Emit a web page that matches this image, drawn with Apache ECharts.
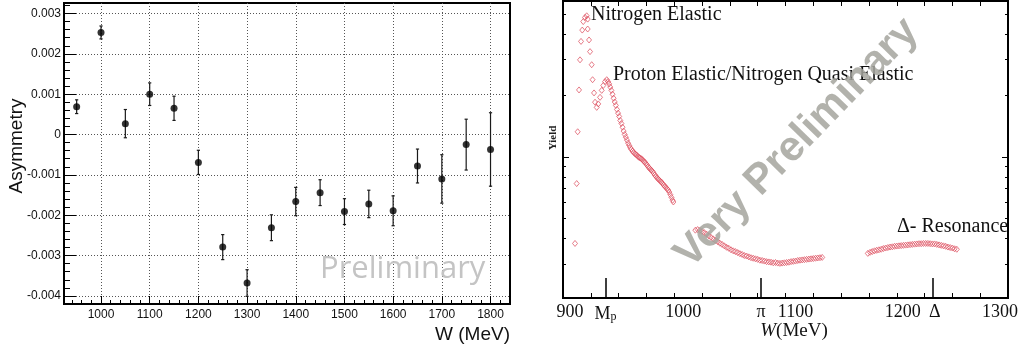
<!DOCTYPE html>
<html>
<head>
<meta charset="utf-8">
<script src="https://cdn.jsdelivr.net/npm/echarts@6/dist/echarts.min.js"></script>
<style>
html,body{margin:0;padding:0;background:#fff;}
#chart{width:1025px;height:354px;}
</style>
</head>
<body>
<div id="chart"></div>
<script>
// ---------- Left panel: asymmetry vs W ----------
const asymW = [950,1000,1050,1100,1150,1200,1250,1300,1350,1400,1450,1500,1550,1600,1650,1700,1750,1800];
const asymV = [0.00069,0.00253,0.00027,0.00100,0.00065,-0.00069,-0.00279,-0.00368,-0.00231,-0.00166,-0.00144,-0.00191,-0.00172,-0.00189,-0.00078,-0.00110,-0.00025,-0.00037];
const asymErr = [0.00017,0.00016,0.00035,0.00028,0.00030,0.00030,0.00031,0.00033,0.00032,0.00035,0.00032,0.00032,0.00034,0.00037,0.00042,0.00060,0.00063,0.00091];
const leftMajorX = [1000,1100,1200,1300,1400,1500,1600,1700,1800];
const leftMinorX = [940,960,980,1000,1020,1040,1060,1080,1100,1120,1140,1160,1180,1200,1220,1240,1260,1280,1300,1320,1340,1360,1380,1400,1420,1440,1460,1480,1500,1520,1540,1560,1580,1600,1620,1640,1660,1680,1700,1720,1740,1760,1780,1800,1820];
const leftMajorY = [-0.004,-0.003,-0.002,-0.001,0,0.001,0.002,0.003];
const leftMinorY = [-0.0040,-0.0038,-0.0036,-0.0034,-0.0032,-0.0030,-0.0028,-0.0026,-0.0024,-0.0022,-0.0020,-0.0018,-0.0016,-0.0014,-0.0012,-0.0010,-0.0008,-0.0006,-0.0004,-0.0002,0,0.0002,0.0004,0.0006,0.0008,0.0010,0.0012,0.0014,0.0016,0.0018,0.0020,0.0022,0.0024,0.0026,0.0028,0.0030,0.0032];

// ---------- Right panel: yield vs W (log scale, arbitrary units) ----------
const nitrogenW = [910.8,912.3,913.2,914.4,915.3,916.2,917.3,918.2,919.8,921.3,922.2,922.2,923.4,924.3,925.8,926.6,927.9,928.8,930.3];
const nitrogenY = [3.78,7.42,13.3,21.3,29.9,36.8,41.8,46.0,48.2,49.1,47.3,42.3,37.4,32.8,28.3,23.9,20.6,18.55,17.5];
const protonW = [931.7,933.3,934.8,936.2,937.8,939.3,940.5,941.5,942.5,943.5,944.5,945.5,946.5,947.5,948.5,949.5,950.5,951.5,952.5,953.5,954.5,955.5,956.5,957.5,958.5,959.5,960.5,961.5,962.5,963.5,964.5,965.5,966.5,967.5,968.5,969.5,970.5,971.5,972.5,973.5,974.5,975.5,976.5,977.5,978.5,979.5,980.5,981.5,982.5,983.5,984.5,985.5,986.5,987.5,988.5,989.5,990.5,991.5,992.5,993.5,994.5,995.5,996.5,997.5,998.5,999.2];
const protonY = [18.2,19.6,21.2,22.4,23.4,23.9,23.4,22.8,22.0,21.2,20.3,19.4,18.6,17.9,17.1,16.4,15.8,15.1,14.6,14.0,13.4,12.9,12.5,12.1,11.7,11.4,11.1,10.9,10.7,10.55,10.4,10.3,10.2,10.05,9.95,9.9,9.8,9.7,9.55,9.45,9.3,9.15,8.98,8.85,8.72,8.62,8.5,8.35,8.18,8.05,7.93,7.82,7.72,7.62,7.55,7.42,7.3,7.2,7.1,7.0,6.9,6.75,6.55,6.35,6.15,6.03];
const pionW = [1019,1021,1023,1025,1027,1029,1031,1033,1035,1037,1039,1041,1043,1045,1047,1049,1051,1053,1055,1057,1059,1061,1063,1065,1067,1069,1071,1073,1075,1077,1079,1081,1083,1085,1087,1089,1091,1093,1095,1097,1099,1101,1103,1105,1107,1109,1111,1113,1115,1117,1119,1121,1123,1125,1127,1129,1131,1133];
const pionY = [4.39,4.42,4.38,4.33,4.27,4.20,4.12,4.05,3.98,3.91,3.86,3.79,3.74,3.68,3.62,3.58,3.52,3.48,3.45,3.41,3.37,3.34,3.30,3.28,3.25,3.22,3.20,3.18,3.16,3.13,3.12,3.10,3.08,3.07,3.06,3.04,3.05,3.03,3.02,3.03,3.04,3.05,3.06,3.08,3.09,3.10,3.12,3.13,3.14,3.15,3.16,3.17,3.18,3.19,3.20,3.21,3.22,3.23];
const deltaW = [1174,1176,1178,1180,1182,1184,1186,1188,1190,1192,1194,1196,1198,1200,1202,1204,1206,1208,1210,1212,1214,1216,1218,1220,1222,1224,1226,1228,1230,1232,1234,1236,1238,1240,1242,1244,1246,1248,1250,1252,1254];
const deltaY = [3.38,3.42,3.45,3.48,3.50,3.52,3.54,3.57,3.59,3.61,3.63,3.64,3.66,3.67,3.68,3.69,3.70,3.71,3.72,3.73,3.74,3.75,3.76,3.77,3.77,3.78,3.78,3.78,3.77,3.76,3.76,3.74,3.72,3.70,3.68,3.66,3.63,3.61,3.59,3.56,3.54];
const rightTickX = [900,925,950,975,1000,1025,1050,1075,1100,1125,1150,1175,1200,1225,1250,1275,1300];
const rightSpecialX = [938.3,1078,1232];
const rightLabelX = [900,938.3,1000,1078,1100,1200,1232,1300];
const rightLabelText = ['{a|900}','{m|M}{s|p}','{b|1000}','π','{c|1100}','{d|1200}','{e|Δ}','{f|1300}'];
const rightMinorY = [3,4,5,6,7,8,9,20,30,40,50];
const rightMajorY = [10];

const zip = (a,b) => a.map((v,i) => [v,b[i]]);
const chart = echarts.init(document.getElementById('chart'), null, {renderer:'canvas'});

const sans = 'Liberation Sans';
const serif = 'Liberation Serif';
const yMin = 2.045, yMax = 58;

function hiddenX(grid, pos, vals, len, min, max, w){
  return {type:'value', gridIndex:grid, position:pos, min:min, max:max,
    axisLine:{show:false, onZero:false}, axisLabel:{show:false}, splitLine:{show:false},
    axisTick:{show:true, inside:true, length:len, customValues:vals, lineStyle:{color:'#000', width:w||1}}};
}
function hiddenY(grid, type, pos, vals, len, min, max, w){
  return {type:type, gridIndex:grid, position:pos, min:min, max:max,
    axisLine:{show:false, onZero:false}, axisLabel:{show:false}, splitLine:{show:false},
    axisTick:{show:true, inside:true, length:len, customValues:vals, lineStyle:{color:'#000', width:w||1}}};
}

const redStyle = {color:'rgba(0,0,0,0)', borderColor:'#dc4b5c', borderWidth:0.9};

const option = {
  animation:false,
  backgroundColor:'#fff',
  grid:[
    {left:64, top:3, width:446, height:301, show:true, borderColor:'#000', borderWidth:2, backgroundColor:'rgba(0,0,0,0)', outerBoundsMode:'none'},
    {left:563, top:1, width:445, height:297, show:true, borderColor:'#000', borderWidth:2, backgroundColor:'rgba(0,0,0,0)', outerBoundsMode:'none'}
  ],
  xAxis:[
    {type:'value', gridIndex:0, position:'bottom', min:924, max:1840,
      axisLine:{show:false, onZero:false},
      axisTick:{show:true, inside:true, length:8, customValues:leftMajorX, lineStyle:{color:'#000'}},
      axisLabel:{show:true, customValues:leftMajorX, fontFamily:sans, fontSize:12, color:'#111', margin:5,
        formatter:function(v){ return String(Math.round(v)); }},
      splitLine:{show:true, lineStyle:{color:'#555', width:1, type:[1,2]}}},
    hiddenX(0,'bottom',leftMinorX,4,924,1840),
    {type:'value', gridIndex:1, position:'bottom', min:900, max:1300,
      axisLine:{show:false, onZero:false},
      axisTick:{show:true, inside:true, length:5, customValues:rightTickX, lineStyle:{color:'#000'}},
      axisLabel:{show:true, customValues:rightLabelX, fontFamily:serif, fontSize:18, color:'#111', margin:5,
        formatter:function(v){ const i = rightLabelX.findIndex(t => Math.abs(t-v)<0.05); return i>=0 ? rightLabelText[i] : ''; },
        rich:{
          a:{fontFamily:serif, fontSize:18, padding:[0,0,0,14]},
          b:{fontFamily:serif, fontSize:18, padding:[0,0,0,18]},
          c:{fontFamily:serif, fontSize:18, padding:[0,0,0,20]},
          d:{fontFamily:serif, fontSize:18, padding:[0,0,0,12]},
          e:{fontFamily:serif, fontSize:18, padding:[0,0,0,5]},
          f:{fontFamily:serif, fontSize:18, padding:[0,16,0,0]},
          m:{fontFamily:serif, fontSize:18, lineHeight:20, verticalAlign:'bottom'},
          s:{fontFamily:serif, fontSize:12, lineHeight:12, verticalAlign:'bottom', padding:[0,0,0,0]}
        }},
      splitLine:{show:false}},
    hiddenX(1,'bottom',rightSpecialX,20,900,1300,1.5),
    hiddenX(1,'top',rightTickX,5,900,1300)
  ],
  yAxis:[
    {type:'value', gridIndex:0, position:'left', min:-0.0042, max:0.00326,
      axisLine:{show:false, onZero:false},
      axisTick:{show:true, inside:true, length:12, customValues:leftMajorY, lineStyle:{color:'#000'}},
      axisLabel:{show:true, customValues:leftMajorY, fontFamily:sans, fontSize:12, color:'#111', margin:3,
        formatter:function(v){ return Math.abs(v)<1e-9 ? '0' : v.toFixed(3); }},
      splitLine:{show:true, lineStyle:{color:'#555', width:1, type:[1,2]}}},
    hiddenY(0,'value','left',leftMinorY,6,-0.0042,0.00326),
    hiddenY(1,'log','left',rightMinorY,3,yMin,yMax),
    hiddenY(1,'log','left',rightMajorY,6,yMin,yMax),
    hiddenY(1,'log','right',rightMinorY,3,yMin,yMax),
    hiddenY(1,'log','right',rightMajorY,6,yMin,yMax)
  ],
  series:[
    {type:'custom', xAxisIndex:0, yAxisIndex:0, z:3,
      data: asymW.map((w,i) => [w, asymV[i], asymErr[i]]),
      encode:{x:0, y:1},
      renderItem:function(params, api){
        const x = api.value(0), y = api.value(1), e = api.value(2);
        const t = api.coord([x, y+e]), b = api.coord([x, y-e]);
        const st = {stroke:'#1a1a1a', lineWidth:1.2};
        return {type:'group', children:[
          {type:'line', shape:{x1:t[0], y1:t[1], x2:b[0], y2:b[1]}, style:st},
          {type:'line', shape:{x1:t[0]-1.6, y1:t[1], x2:t[0]+1.6, y2:t[1]}, style:st},
          {type:'line', shape:{x1:b[0]-1.6, y1:b[1], x2:b[0]+1.6, y2:b[1]}, style:st}
        ]};
      }},
    {type:'scatter', xAxisIndex:0, yAxisIndex:0, z:4, symbol:'circle', symbolSize:7,
      itemStyle:{color:'#000'}, data:zip(asymW, asymV)},
    {type:'scatter', xAxisIndex:2, yAxisIndex:2, symbol:'diamond', symbolSize:[5,6], itemStyle:redStyle, data:zip(nitrogenW, nitrogenY)},
    {type:'scatter', xAxisIndex:2, yAxisIndex:2, symbol:'diamond', symbolSize:[5,6], itemStyle:redStyle, data:zip(protonW, protonY)},
    {type:'scatter', xAxisIndex:2, yAxisIndex:2, symbol:'diamond', symbolSize:[5,6], itemStyle:redStyle, data:zip(pionW, pionY)},
    {type:'scatter', xAxisIndex:2, yAxisIndex:2, symbol:'diamond', symbolSize:[5,6], itemStyle:redStyle, data:zip(deltaW, deltaY)}
  ],
  graphic:[
    {type:'text', x:17, y:146, rotation:Math.PI/2, z:10,
      style:{text:'Asymmetry', font:'19px "Liberation Sans"', fill:'#111', align:'center', verticalAlign:'middle'}},
    {type:'text', x:510, y:335, z:10,
      style:{text:'W (MeV)', font:'19px "Liberation Sans"', fill:'#111', align:'right', verticalAlign:'middle'}},
    {type:'text', x:320, y:269, z:10,
      style:{text:'Preliminary', font:'31px "Open Sans"', fill:'#c4c4c4', align:'left', verticalAlign:'middle'}},
    {type:'text', x:553, y:138, rotation:Math.PI/2, z:10,
      style:{text:'Yield', font:'bold 11px "Liberation Serif"', fill:'#222', align:'center', verticalAlign:'middle'}},
    {type:'text', x:794, y:331, z:10,
      style:{text:'{i|W}(MeV)', font:'19px "Liberation Serif"', fill:'#111', align:'center', verticalAlign:'middle',
        rich:{i:{font:'italic 19px "Liberation Serif"', fill:'#111'}}}},
    {type:'text', x:591, y:15, z:10,
      style:{text:'Nitrogen Elastic', font:'20px "Liberation Serif"', fill:'#111', align:'left', verticalAlign:'middle'}},
    {type:'text', x:613, y:75, z:10,
      style:{text:'Proton Elastic/Nitrogen Quasi Elastic', font:'20px "Liberation Serif"', fill:'#111', align:'left', verticalAlign:'middle'}},
    {type:'text', x:897, y:227, z:10,
      style:{text:'Δ- Resonance', font:'20px "Liberation Serif"', fill:'#111', align:'left', verticalAlign:'middle'}},
    {type:'text', x:797, y:143, rotation:0.80, z:20,
      style:{text:'Very Preliminary', font:'bold 42px "Liberation Sans"', fill:'rgba(165,165,158,0.85)', align:'center', verticalAlign:'middle'}}
  ]
};
chart.setOption(option);
</script>
</body>
</html>
